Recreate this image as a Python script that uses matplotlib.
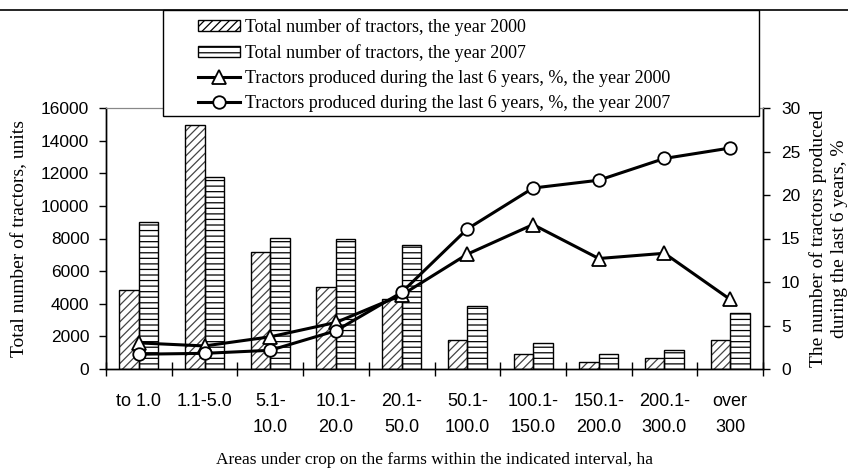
import numpy as np
import matplotlib
matplotlib.use("Agg")
import matplotlib.pyplot as plt
from matplotlib.patches import Patch, Rectangle
from matplotlib.lines import Line2D

# data
categories = ["to 1.0", "1.1-5.0", "5.1-\n10.0", "10.1-\n20.0", "20.1-\n50.0",
              "50.1-\n100.0", "100.1-\n150.0", "150.1-\n200.0", "200.1-\n300.0", "over\n300"]
tractors_2000 = [4850, 14950, 7200, 5050, 4300, 1780, 950, 450, 660, 1780]
tractors_2007 = [9000, 11800, 8050, 7980, 7580, 3850, 1620, 940, 1150, 3420]
share_2000 = [3.0, 2.65, 3.7, 5.35, 8.5, 13.2, 16.6, 12.7, 13.3, 8.0]
share_2007 = [1.7, 1.8, 2.15, 4.4, 8.8, 16.1, 20.8, 21.7, 24.2, 25.4]

serif = "Liberation Serif"
sans = "Liberation Sans"
plt.rcParams["hatch.linewidth"] = 0.9

W, H = 848, 472
fig = plt.figure(figsize=(W / 100, H / 100), dpi=100)
ax1 = fig.add_axes([106 / W, 1 - 369 / H, 657 / W, 261 / H])
ax2 = ax1.twinx()

x = np.arange(len(categories))
w = 0.297

# 2000 bars: grey hatch, then black outline on top
ax1.bar(x - w / 2, tractors_2000, w, facecolor="white", edgecolor="#444444",
        hatch="////", linewidth=0, zorder=2)
ax1.bar(x - w / 2, tractors_2000, w, fill=False, edgecolor="black", linewidth=1, zorder=3)
ax1.bar(x + w / 2, tractors_2007, w, facecolor="white", edgecolor="black",
        hatch="---", linewidth=1, zorder=2)

ax1.set_xlim(-0.5, len(categories) - 0.5)
ax1.set_ylim(0, 16000)
ax1.set_yticks(range(0, 16001, 2000))
ax2.set_ylim(0, 30)
ax2.set_yticks(range(0, 31, 5))

ax2.plot(x, share_2000, color="black", lw=2.2, marker="^", ms=10,
         mfc="white", mec="black", mew=1.3, zorder=4)
ax2.plot(x, share_2007, color="black", lw=2.2, marker="o", ms=9,
         mfc="white", mec="black", mew=1.3, zorder=5)

ax1.set_xticks(x)
ax1.set_xticklabels(categories, fontfamily=sans, fontsize=13, linespacing=1.75,
                    va="top")
ax1.set_xticks(np.arange(-0.5, len(categories)), minor=True)
ax1.tick_params(axis="x", which="major", length=0, pad=17)
ax1.tick_params(axis="x", which="minor", direction="inout", length=10, width=1)
ax1.tick_params(axis="y", direction="out", length=5, width=1, pad=7, labelsize=12.5)
ax2.tick_params(axis="y", direction="out", length=5, width=1, pad=8, labelsize=12.5)
for lab in ax1.get_yticklabels() + ax2.get_yticklabels():
    lab.set_fontfamily(sans)

for a in (ax1, ax2):
    a.spines["top"].set_color("#888888")
    a.spines["top"].set_linewidth(0.8)
    for s in ("left", "right", "bottom"):
        a.spines[s].set_linewidth(1)

ax1.set_ylabel("Total number of tractors, units", fontfamily=serif, fontsize=14, labelpad=9)
ax2.set_ylabel("The number of tractors produced\nduring the last 6 years, %",
               fontfamily=serif, fontsize=14, labelpad=6, linespacing=1.3)
ax1.set_xlabel("Areas under crop on the farms within the indicated interval, ha",
               fontfamily=serif, fontsize=12.5, labelpad=11)

# legend with its own wide frame
fig.patches.append(Rectangle((163 / W, 1 - 116 / H), 596 / W, 106 / H,
                             transform=fig.transFigure, facecolor="white",
                             edgecolor="black", linewidth=1, zorder=4))
fig.add_artist(Line2D([0, 1], [1 - 9.5 / H, 1 - 9.5 / H], color="black", lw=1.2))
handles = [
    Patch(facecolor="white", edgecolor="black", hatch="////", linewidth=1),
    Patch(facecolor="white", edgecolor="black", hatch="---", linewidth=1),
    Line2D([], [], color="black", lw=2.2, marker="^", ms=10, mfc="white", mew=1.3),
    Line2D([], [], color="black", lw=2.2, marker="o", ms=9, mfc="white", mew=1.3),
]
labels = [
    "Total number of tractors, the year 2000",
    "Total number of tractors, the year 2007",
    "Tractors produced during the last 6 years, %, the year 2000",
    "Tractors produced during the last 6 years, %, the year 2007",
]
leg = fig.legend(handles, labels, loc="upper left", bbox_to_anchor=(198 / W, 1 - 18 / H),
                 frameon=False, borderpad=0, borderaxespad=0, handlelength=2.3,
                 handleheight=0.55, handletextpad=0.3, labelspacing=0.45,
                 prop={"family": serif, "size": 13})
leg.set_zorder(5)

fig.savefig("out.png", dpi=100)
